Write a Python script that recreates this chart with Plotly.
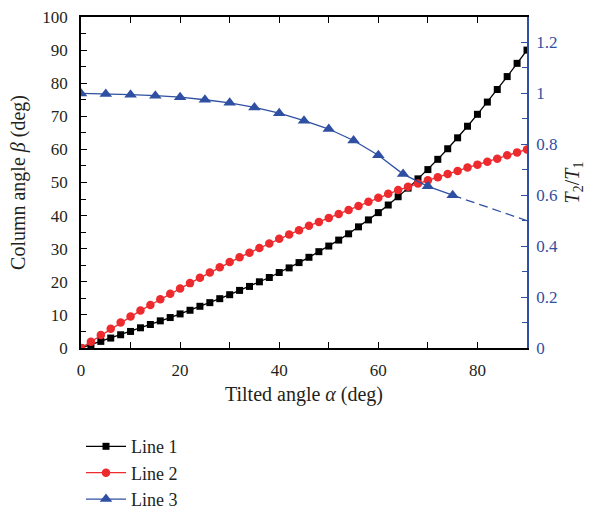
import plotly.graph_objects as go

# Tilted angle alpha (deg), sampled every 2 degrees for lines 1 and 2
alpha = list(range(0, 91, 2))

# Line 1: column angle beta (deg)
line1 = [0.0, 1.0, 2.0, 3.0, 4.0, 5.0, 6.1, 7.1, 8.2, 9.2, 10.3, 11.4, 12.6,
         13.7, 14.9, 16.1, 17.4, 18.6, 20.0, 21.3, 22.8, 24.2, 25.8, 27.4,
         29.1, 30.8, 32.6, 34.5, 36.6, 38.7, 40.9, 43.2, 45.7, 48.3, 51.1,
         53.9, 57.0, 60.2, 63.5, 67.0, 70.6, 74.3, 78.1, 82.0, 86.0, 90.0]

# Line 2: column angle beta (deg)
line2 = [0.0, 1.9, 3.9, 5.8, 7.7, 9.5, 11.3, 13.0, 14.7, 16.4, 18.0, 19.6,
         21.2, 22.8, 24.4, 26.0, 27.4, 28.8, 30.2, 31.6, 33.0, 34.3, 35.6,
         36.9, 38.1, 39.3, 40.5, 41.7, 42.9, 44.2, 45.4, 46.6, 47.7, 48.7,
         49.7, 50.7, 51.6, 52.6, 53.5, 54.5, 55.4, 56.3, 57.2, 58.2, 59.1, 60.0]

# Line 3: tension ratio T2/T1, sampled every 5 degrees up to 75
alpha3 = list(range(0, 76, 5))
line3 = [1.0, 0.998, 0.995, 0.991, 0.985, 0.975, 0.963, 0.945, 0.922,
         0.893, 0.860, 0.815, 0.757, 0.683, 0.635, 0.600]

# Extrapolated part of line 3 (dashed)
alpha3_ext = [75, 90]
line3_ext = [0.600, 0.500]

BLACK = "#000000"
RED = "#ed2a2d"
BLUE = "#2f50a2"
TEXT = "#231f20"
FONT = "Liberation Serif"

fig = go.Figure()

fig.add_trace(go.Scatter(
    x=alpha, y=line1, name="Line 1", mode="lines+markers",
    line=dict(color=BLACK, width=1.3),
    marker=dict(symbol="square", size=7, color=BLACK),
))
fig.add_trace(go.Scatter(
    x=alpha, y=line2, name="Line 2", mode="lines+markers",
    line=dict(color=RED, width=1.3),
    marker=dict(symbol="circle", size=8.5, color=RED),
))
fig.add_trace(go.Scatter(
    x=alpha3, y=line3, name="Line 3", mode="lines+markers", yaxis="y2",
    line=dict(color=BLUE, width=1.3),
    marker=dict(symbol="triangle-up", size=11, color=BLUE),
))
fig.add_trace(go.Scatter(
    x=alpha3_ext, y=line3_ext, mode="lines", yaxis="y2", showlegend=False,
    line=dict(color=BLUE, width=1.3, dash="9px,5px"),
))

fig.update_layout(
    width=589, height=512,
    margin=dict(l=81, r=62, t=17, b=164, autoexpand=False),
    paper_bgcolor="white", plot_bgcolor="white",
    font=dict(family=FONT, size=17, color=TEXT),
    showlegend=True,
    legend=dict(
        x=0.0, y=-0.242, xanchor="left", yanchor="top",
        font=dict(family=FONT, size=18, color=TEXT),
        bgcolor="rgba(0,0,0,0)", itemwidth=40, tracegroupgap=0,
    ),
    xaxis=dict(
        range=[0, 90], dtick=20, tick0=0, automargin=False,
        showgrid=False, zeroline=False,
        showline=True, linecolor=BLACK, linewidth=1.5, mirror="ticks",
        ticks="inside", ticklen=6, tickwidth=1, tickcolor=BLACK,
        minor=dict(dtick=10, ticks="inside", ticklen=6, tickcolor=BLACK),
        tickfont=dict(family=FONT, size=17, color=TEXT),
        ticklabelstandoff=6,
        title=dict(text="Tilted angle <i>α</i> (deg)",
                   font=dict(family=FONT, size=20, color=TEXT), standoff=8),
    ),
    yaxis=dict(
        range=[0, 100], dtick=10, tick0=0, automargin=False,
        showgrid=False, zeroline=False,
        showline=True, linecolor=BLACK, linewidth=1.5,
        ticks="inside", ticklen=6, tickwidth=1, tickcolor=BLACK,
        minor=dict(dtick=5, ticks="inside", ticklen=5, tickcolor=BLACK),
        tickfont=dict(family=FONT, size=17, color=TEXT),
        ticklabelstandoff=8,
        title=dict(text="Column angle <i>β</i> (deg)",
                   font=dict(family=FONT, size=20, color=TEXT), standoff=11),
    ),
    yaxis2=dict(
        overlaying="y", side="right", anchor="x", automargin=False,
        range=[0, 1.3], dtick=0.2, tick0=0,
        showgrid=False, zeroline=False,
        showline=True, linecolor=BLUE, linewidth=1.5,
        ticks="inside", ticklen=6, tickwidth=1, tickcolor=BLUE,
        minor=dict(dtick=0.1, ticks="inside", ticklen=5, tickcolor=BLUE),
        tickfont=dict(family=FONT, size=17, color=BLUE),
        ticklabelstandoff=4,
        title=dict(text="<i>T</i><sub>2</sub>/<i>T</i><sub>1</sub>",
                   font=dict(family=FONT, size=20, color=TEXT), standoff=8),
    ),
)

fig.write_html("out.html")
